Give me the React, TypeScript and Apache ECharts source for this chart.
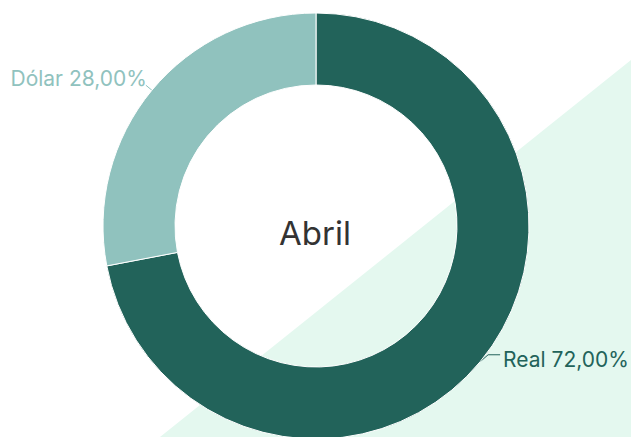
import React, { useEffect, useRef } from "react";
import * as echarts from "echarts";

const categories = ["Real", "Dólar"];
const values = [72, 28];
const colors = ["#22635A", "#90C2BE"];
const centerTitle = "Abril";

export default function App() {
  const ref = useRef<HTMLDivElement>(null);
  useEffect(() => {
    document.body.style.margin = "0";
    const chart = echarts.init(ref.current!, null, { renderer: "svg" });
    chart.setOption({
      animation: false,
      backgroundColor: "#ffffff",
      graphic: [
        {
          type: "polygon",
          z: -10,
          silent: true,
          shape: { points: [[160, 437], [631, 60], [631, 437]] },
          style: { fill: "#E4F8EF" },
        },
        {
          type: "text",
          x: 315,
          y: 233,
          z: 10,
          style: {
            text: centerTitle,
            fontFamily: "Inter",
            fontSize: 33,
            fill: "#333333",
            align: "center",
            verticalAlign: "middle",
          },
        },
      ],
      series: [
        {
          type: "pie",
          center: [316, 226],
          radius: [141, 213],
          startAngle: 90,
          clockwise: true,
          avoidLabelOverlap: false,
          itemStyle: { borderColor: "#ffffff", borderWidth: 1 },
          label: {
            show: true,
            fontFamily: "Inter",
            fontSize: 21,
            formatter: (p: any) => `${p.name} ${p.value.toFixed(2).replace(".", ",")}%`,
          },
          labelLine: { show: true, length: 8, length2: 12, smooth: false },
          labelLayout: (p: any) => {
            const pts = p.labelLinePoints;
            const p0 = pts && pts[0] ? pts[0] : [0, 0];
            if (p.dataIndex === 0) {
              const e = [p0[0] + 8, p0[1] - 7];
              const f = [p0[0] + 20, p0[1] - 7];
              return {
                x: f[0] + 3,
                y: f[1] + 5,
                align: "left",
                verticalAlign: "middle",
                labelLinePoints: [p0, e, f],
              };
            }
            const e = [p0[0] - 6, p0[1] - 5];
            return {
              x: e[0] + 1,
              y: e[1] - 7,
              align: "right",
              verticalAlign: "middle",
              labelLinePoints: [p0, e, e],
            };
          },
          data: categories.map((c, i) => ({
            name: c,
            value: values[i],
            itemStyle: { color: colors[i] },
            label: { color: colors[i] },
            labelLine: { lineStyle: { color: colors[i] } },
          })),
        },
      ],
    });
    return () => chart.dispose();
  }, []);
  return <div ref={ref} style={{ width: 631, height: 437 }} />;
}
